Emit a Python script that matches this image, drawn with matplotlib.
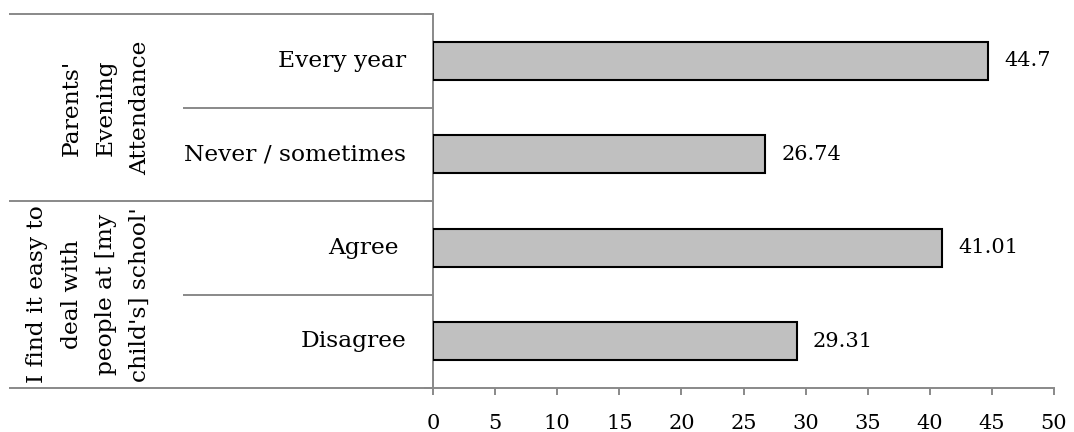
import matplotlib
matplotlib.use("Agg")
import matplotlib.pyplot as plt
import matplotlib.transforms as mtransforms

# Data
categories = ["Every year", "Never / sometimes", "Agree ", "Disagree"]
values = [44.7, 26.74, 41.01, 29.31]
groups = ["Parents'\nEvening\nAttendance",
          "I find it easy to\ndeal with\npeople at [my\nchild's] school'"]
group_sizes = [2, 2]
x_ticks = [0, 5, 10, 15, 20, 25, 30, 35, 40, 45, 50]

FONT = "DejaVu Serif"
LABEL_SIZE = 16.8
NUM_SIZE = 15
LINE = "#898989"
W, H = 1074, 432

fig = plt.figure(figsize=(W / 100, H / 100), dpi=100)
ax = fig.add_axes([433 / W, (H - 388) / H, 621 / W, 374 / H])

n = len(categories)
ypos = [n - 1 - i for i in range(n)]
ax.barh(ypos, values, height=0.41, color="#c0c0c0", edgecolor="black",
        linewidth=1.5, zorder=3)

for y, v in zip(ypos, values):
    ax.annotate(f"{v:g}", xy=(v, y), xytext=(11.5, 0), textcoords="offset points",
                ha="left", va="center", fontsize=NUM_SIZE, family=FONT)

ax.set_xlim(0, 50)
ax.set_ylim(-0.5, n - 0.5)
ax.set_xticks(x_ticks)
ax.set_xticklabels([str(t) for t in x_ticks], fontsize=NUM_SIZE, family=FONT)
ax.tick_params(axis="x", direction="out", length=5, width=1.4, color=LINE, pad=13.5)

# group boundaries as y ticks
bounds = [-0.5]
acc = -0.5
for s in reversed(group_sizes):
    acc += s
    bounds.append(acc)
ax.set_yticks(bounds)
ax.set_yticklabels([])
ax.tick_params(axis="y", direction="out", length=6.5, width=1.4, color=LINE)

for side in ("top", "right"):
    ax.spines[side].set_visible(False)
for side in ("left", "bottom"):
    ax.spines[side].set_color(LINE)
    ax.spines[side].set_linewidth(1.4)

# category labels and separators, in pixel-based axes-fraction offsets
def xfrac(px):
    return (px - 433) / 621

trans = mtransforms.blended_transform_factory(ax.transAxes, ax.transData)
for y, c in zip(ypos, categories):
    ax.text(xfrac(406), y, c, transform=trans, ha="right", va="center",
            fontsize=LABEL_SIZE, family=FONT)

# horizontal lines bounding the groups
for b in bounds:
    ax.plot([xfrac(9), 0], [b, b], transform=trans, color=LINE, lw=1.4,
            clip_on=False, solid_capstyle="butt")

# lines between categories within each group
start = n - 0.5
for s in group_sizes:
    for k in range(1, s):
        yb = start - k
        ax.plot([xfrac(183), 0], [yb, yb], transform=trans, color=LINE, lw=1.4,
                clip_on=False, solid_capstyle="butt")
    start -= s

# rotated group labels
start = n - 0.5
for g, s in zip(groups, group_sizes):
    yc = start - s / 2
    ax.text(xfrac(151), yc, g, transform=trans, rotation=90, ha="right",
            va="center", multialignment="center", fontsize=LABEL_SIZE,
            family=FONT, linespacing=1.72)
    start -= s

fig.savefig("out.png", dpi=100)
